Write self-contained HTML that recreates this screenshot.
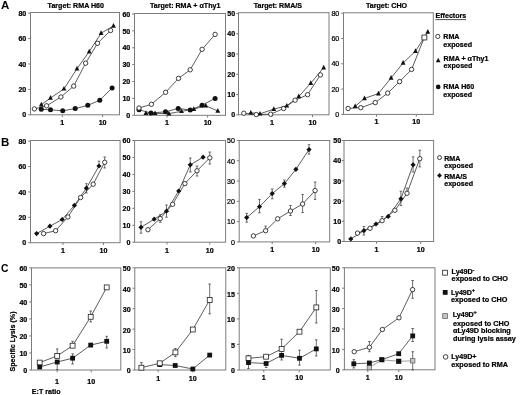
<!DOCTYPE html>
<html><head><meta charset="utf-8"><style>
html,body{margin:0;padding:0;background:#fff;}
svg{display:block;will-change:transform;}
text{font-family:"Liberation Sans",sans-serif;fill:#000;stroke:#000;stroke-width:0.22px;}
</style></head><body>
<svg width="520" height="395" viewBox="0 0 520 395">
<rect width="520" height="395" fill="#fff"/>
<text x="1.00" y="9.00" text-anchor="start" font-weight="bold" font-size="11.5" style="stroke-width:0">A</text>
<text x="75.80" y="7.70" text-anchor="middle" font-weight="bold" font-size="7.1" >Target: RMA H60</text>
<text x="185.20" y="8.40" text-anchor="middle" font-weight="bold" font-size="7.1" >Target: RMA + αThy1</text>
<text x="277.80" y="7.70" text-anchor="middle" font-weight="bold" font-size="7.1" >Target: RMA/S</text>
<text x="386.50" y="8.10" text-anchor="middle" font-weight="bold" font-size="7.1" >Target: CHO</text>
<rect x="30.5" y="12.5" width="89.0" height="102.3" fill="none" stroke="#7c7c7c" stroke-width="1"/>
<line x1="28.2" y1="114.8" x2="30.5" y2="114.8" stroke="#7c7c7c"/>
<text x="26.30" y="117.45" text-anchor="end" font-weight="bold" font-size="7.1" >0</text>
<line x1="28.2" y1="89.4" x2="30.5" y2="89.4" stroke="#7c7c7c"/>
<text x="26.30" y="92.05" text-anchor="end" font-weight="bold" font-size="7.1" >20</text>
<line x1="28.2" y1="64.0" x2="30.5" y2="64.0" stroke="#7c7c7c"/>
<text x="26.30" y="66.65" text-anchor="end" font-weight="bold" font-size="7.1" >40</text>
<line x1="28.2" y1="38.60000000000001" x2="30.5" y2="38.60000000000001" stroke="#7c7c7c"/>
<text x="26.30" y="41.25" text-anchor="end" font-weight="bold" font-size="7.1" >60</text>
<line x1="28.2" y1="13.200000000000003" x2="30.5" y2="13.200000000000003" stroke="#7c7c7c"/>
<text x="26.30" y="15.85" text-anchor="end" font-weight="bold" font-size="7.1" >80</text>
<line x1="62.3" y1="114.8" x2="62.3" y2="117.1" stroke="#7c7c7c"/>
<text x="62.30" y="125.00" text-anchor="middle" font-weight="bold" font-size="7.1" >1</text>
<line x1="102.6" y1="114.8" x2="102.6" y2="117.1" stroke="#7c7c7c"/>
<text x="102.60" y="125.00" text-anchor="middle" font-weight="bold" font-size="7.1" >10</text>
<polyline points="34.4,108.9 46.6,105.8 60.9,97.0 73.7,86.1 85.6,63.2 97.5,43.3 110.6,30.5" fill="none" stroke="#333" stroke-width="0.8"/>
<polyline points="41.3,104.7 50.5,98.0 64.0,88.8 77.0,68.7 89.2,51.7 101.1,33.2 113.5,25.9" fill="none" stroke="#333" stroke-width="0.8"/>
<polyline points="41.3,109.3 50.5,109.8 62.7,110.8 75.2,108.6 87.8,105.3 99.8,100.3 112.1,87.9" fill="none" stroke="#333" stroke-width="0.8"/>
<circle cx="34.4" cy="108.9" r="2.2" fill="#fff" stroke="#111" stroke-width="0.8"/>
<circle cx="46.6" cy="105.8" r="2.2" fill="#fff" stroke="#111" stroke-width="0.8"/>
<circle cx="60.9" cy="97.0" r="2.2" fill="#fff" stroke="#111" stroke-width="0.8"/>
<circle cx="73.7" cy="86.1" r="2.2" fill="#fff" stroke="#111" stroke-width="0.8"/>
<circle cx="85.6" cy="63.2" r="2.2" fill="#fff" stroke="#111" stroke-width="0.8"/>
<circle cx="97.5" cy="43.3" r="2.2" fill="#fff" stroke="#111" stroke-width="0.8"/>
<circle cx="110.6" cy="30.5" r="2.2" fill="#fff" stroke="#111" stroke-width="0.8"/>
<path d="M41.3,101.8 L43.7,106.5 L38.9,106.5Z" fill="#111"/>
<path d="M50.5,95.1 L52.9,99.8 L48.1,99.8Z" fill="#111"/>
<path d="M64.0,85.9 L66.4,90.6 L61.6,90.6Z" fill="#111"/>
<path d="M77.0,65.8 L79.4,70.5 L74.6,70.5Z" fill="#111"/>
<path d="M89.2,48.8 L91.6,53.5 L86.8,53.5Z" fill="#111"/>
<path d="M101.1,30.3 L103.5,35.0 L98.7,35.0Z" fill="#111"/>
<path d="M113.5,23.0 L115.9,27.7 L111.1,27.7Z" fill="#111"/>
<circle cx="41.3" cy="109.3" r="2.5" fill="#111"/>
<circle cx="50.5" cy="109.8" r="2.5" fill="#111"/>
<circle cx="62.7" cy="110.8" r="2.5" fill="#111"/>
<circle cx="75.2" cy="108.6" r="2.5" fill="#111"/>
<circle cx="87.8" cy="105.3" r="2.5" fill="#111"/>
<circle cx="99.8" cy="100.3" r="2.5" fill="#111"/>
<circle cx="112.1" cy="87.9" r="2.5" fill="#111"/>
<rect x="134.5" y="13.5" width="91.0" height="101.8" fill="none" stroke="#7c7c7c" stroke-width="1"/>
<line x1="132.2" y1="115.3" x2="134.5" y2="115.3" stroke="#7c7c7c"/>
<text x="130.30" y="117.95" text-anchor="end" font-weight="bold" font-size="7.1" >0</text>
<line x1="132.2" y1="98.41666666666666" x2="134.5" y2="98.41666666666666" stroke="#7c7c7c"/>
<text x="130.30" y="101.07" text-anchor="end" font-weight="bold" font-size="7.1" >10</text>
<line x1="132.2" y1="81.53333333333333" x2="134.5" y2="81.53333333333333" stroke="#7c7c7c"/>
<text x="130.30" y="84.18" text-anchor="end" font-weight="bold" font-size="7.1" >20</text>
<line x1="132.2" y1="64.65" x2="134.5" y2="64.65" stroke="#7c7c7c"/>
<text x="130.30" y="67.30" text-anchor="end" font-weight="bold" font-size="7.1" >30</text>
<line x1="132.2" y1="47.766666666666666" x2="134.5" y2="47.766666666666666" stroke="#7c7c7c"/>
<text x="130.30" y="50.42" text-anchor="end" font-weight="bold" font-size="7.1" >40</text>
<line x1="132.2" y1="30.883333333333326" x2="134.5" y2="30.883333333333326" stroke="#7c7c7c"/>
<text x="130.30" y="33.53" text-anchor="end" font-weight="bold" font-size="7.1" >50</text>
<line x1="132.2" y1="14.0" x2="134.5" y2="14.0" stroke="#7c7c7c"/>
<text x="130.30" y="16.65" text-anchor="end" font-weight="bold" font-size="7.1" >60</text>
<line x1="167" y1="115.3" x2="167" y2="117.6" stroke="#7c7c7c"/>
<text x="167.00" y="125.35" text-anchor="middle" font-weight="bold" font-size="7.1" >1</text>
<line x1="207.6" y1="115.3" x2="207.6" y2="117.6" stroke="#7c7c7c"/>
<text x="207.60" y="125.35" text-anchor="middle" font-weight="bold" font-size="7.1" >10</text>
<polyline points="139.0,109.8 151.0,113.0 165.5,111.8 178.2,108.4 190.2,110.0 202.1,105.2 215.1,98.4" fill="none" stroke="#333" stroke-width="0.8"/>
<polyline points="145.9,113.3 155.1,113.3 168.9,113.6 181.5,111.3 193.8,109.1 205.8,105.8 217.8,111.0" fill="none" stroke="#333" stroke-width="0.8"/>
<polyline points="139.0,108.0 151.4,104.3 165.6,92.3 178.5,78.4 190.2,69.8 202.1,49.3 215.1,34.4" fill="none" stroke="#333" stroke-width="0.8"/>
<circle cx="139.0" cy="109.8" r="2.5" fill="#111"/>
<circle cx="151.0" cy="113.0" r="2.5" fill="#111"/>
<circle cx="165.5" cy="111.8" r="2.5" fill="#111"/>
<circle cx="178.2" cy="108.4" r="2.5" fill="#111"/>
<circle cx="190.2" cy="110.0" r="2.5" fill="#111"/>
<circle cx="202.1" cy="105.2" r="2.5" fill="#111"/>
<circle cx="215.1" cy="98.4" r="2.5" fill="#111"/>
<path d="M145.9,110.4 L148.3,115.1 L143.5,115.1Z" fill="#111"/>
<path d="M155.1,110.4 L157.5,115.1 L152.7,115.1Z" fill="#111"/>
<path d="M168.9,110.7 L171.3,115.4 L166.5,115.4Z" fill="#111"/>
<path d="M181.5,108.4 L183.9,113.1 L179.1,113.1Z" fill="#111"/>
<path d="M193.8,106.2 L196.2,110.9 L191.4,110.9Z" fill="#111"/>
<path d="M205.8,102.9 L208.2,107.6 L203.4,107.6Z" fill="#111"/>
<path d="M217.8,108.1 L220.2,112.8 L215.4,112.8Z" fill="#111"/>
<circle cx="139.0" cy="108.0" r="2.2" fill="#fff" stroke="#111" stroke-width="0.8"/>
<circle cx="151.4" cy="104.3" r="2.2" fill="#fff" stroke="#111" stroke-width="0.8"/>
<circle cx="165.6" cy="92.3" r="2.2" fill="#fff" stroke="#111" stroke-width="0.8"/>
<circle cx="178.5" cy="78.4" r="2.2" fill="#fff" stroke="#111" stroke-width="0.8"/>
<circle cx="190.2" cy="69.8" r="2.2" fill="#fff" stroke="#111" stroke-width="0.8"/>
<circle cx="202.1" cy="49.3" r="2.2" fill="#fff" stroke="#111" stroke-width="0.8"/>
<circle cx="215.1" cy="34.4" r="2.2" fill="#fff" stroke="#111" stroke-width="0.8"/>
<rect x="238.5" y="12.7" width="90.5" height="102.1" fill="none" stroke="#7c7c7c" stroke-width="1"/>
<line x1="236.2" y1="114.8" x2="238.5" y2="114.8" stroke="#7c7c7c"/>
<text x="235.10" y="117.45" text-anchor="end" font-weight="bold" font-size="7.1" >0</text>
<line x1="236.2" y1="94.53999999999999" x2="238.5" y2="94.53999999999999" stroke="#7c7c7c"/>
<text x="235.10" y="97.19" text-anchor="end" font-weight="bold" font-size="7.1" >10</text>
<line x1="236.2" y1="74.28" x2="238.5" y2="74.28" stroke="#7c7c7c"/>
<text x="235.10" y="76.93" text-anchor="end" font-weight="bold" font-size="7.1" >20</text>
<line x1="236.2" y1="54.02" x2="238.5" y2="54.02" stroke="#7c7c7c"/>
<text x="235.10" y="56.67" text-anchor="end" font-weight="bold" font-size="7.1" >30</text>
<line x1="236.2" y1="33.760000000000005" x2="238.5" y2="33.760000000000005" stroke="#7c7c7c"/>
<text x="235.10" y="36.41" text-anchor="end" font-weight="bold" font-size="7.1" >40</text>
<line x1="236.2" y1="13.5" x2="238.5" y2="13.5" stroke="#7c7c7c"/>
<text x="235.10" y="16.15" text-anchor="end" font-weight="bold" font-size="7.1" >50</text>
<line x1="271.9" y1="114.8" x2="271.9" y2="117.1" stroke="#7c7c7c"/>
<text x="271.90" y="124.65" text-anchor="middle" font-weight="bold" font-size="7.1" >1</text>
<line x1="312.5" y1="114.8" x2="312.5" y2="117.1" stroke="#7c7c7c"/>
<text x="312.50" y="124.65" text-anchor="middle" font-weight="bold" font-size="7.1" >10</text>
<polyline points="243.8,113.2 256.3,114.6 270.7,114.2 283.6,108.5 295.1,100.2 307.6,94.7 320.4,74.9" fill="none" stroke="#333" stroke-width="0.8"/>
<polyline points="250.8,112.8 260.0,113.8 273.8,109.1 286.8,105.8 298.8,96.5 310.8,83.1 323.7,67.6" fill="none" stroke="#333" stroke-width="0.8"/>
<circle cx="243.8" cy="113.2" r="2.2" fill="#fff" stroke="#111" stroke-width="0.8"/>
<circle cx="256.3" cy="114.6" r="2.2" fill="#fff" stroke="#111" stroke-width="0.8"/>
<circle cx="270.7" cy="114.2" r="2.2" fill="#fff" stroke="#111" stroke-width="0.8"/>
<circle cx="283.6" cy="108.5" r="2.2" fill="#fff" stroke="#111" stroke-width="0.8"/>
<circle cx="295.1" cy="100.2" r="2.2" fill="#fff" stroke="#111" stroke-width="0.8"/>
<circle cx="307.6" cy="94.7" r="2.2" fill="#fff" stroke="#111" stroke-width="0.8"/>
<circle cx="320.4" cy="74.9" r="2.2" fill="#fff" stroke="#111" stroke-width="0.8"/>
<path d="M250.8,109.9 L253.2,114.6 L248.4,114.6Z" fill="#111"/>
<path d="M260.0,110.9 L262.4,115.6 L257.6,115.6Z" fill="#111"/>
<path d="M273.8,106.2 L276.2,110.9 L271.4,110.9Z" fill="#111"/>
<path d="M286.8,102.9 L289.2,107.6 L284.4,107.6Z" fill="#111"/>
<path d="M298.8,93.6 L301.2,98.3 L296.4,98.3Z" fill="#111"/>
<path d="M310.8,80.2 L313.2,84.9 L308.4,84.9Z" fill="#111"/>
<path d="M323.7,64.7 L326.1,69.4 L321.3,69.4Z" fill="#111"/>
<rect x="343.5" y="12.8" width="89.80000000000001" height="101.60000000000001" fill="none" stroke="#7c7c7c" stroke-width="1"/>
<line x1="341.2" y1="114.4" x2="343.5" y2="114.4" stroke="#7c7c7c"/>
<text x="339.30" y="117.05" text-anchor="end" font-weight="normal" font-size="7.1" >0</text>
<line x1="341.2" y1="89.10000000000001" x2="343.5" y2="89.10000000000001" stroke="#7c7c7c"/>
<text x="339.30" y="91.75" text-anchor="end" font-weight="normal" font-size="7.1" >20</text>
<line x1="341.2" y1="63.800000000000004" x2="343.5" y2="63.800000000000004" stroke="#7c7c7c"/>
<text x="339.30" y="66.45" text-anchor="end" font-weight="normal" font-size="7.1" >40</text>
<line x1="341.2" y1="38.5" x2="343.5" y2="38.5" stroke="#7c7c7c"/>
<text x="339.30" y="41.15" text-anchor="end" font-weight="normal" font-size="7.1" >60</text>
<line x1="341.2" y1="13.200000000000003" x2="343.5" y2="13.200000000000003" stroke="#7c7c7c"/>
<text x="339.30" y="15.85" text-anchor="end" font-weight="normal" font-size="7.1" >80</text>
<line x1="376.5" y1="114.4" x2="376.5" y2="116.7" stroke="#7c7c7c"/>
<text x="376.50" y="124.40" text-anchor="middle" font-weight="bold" font-size="7.1" >1</text>
<line x1="416.3" y1="114.4" x2="416.3" y2="116.7" stroke="#7c7c7c"/>
<text x="416.30" y="124.40" text-anchor="middle" font-weight="bold" font-size="7.1" >10</text>
<polyline points="348.1,108.5 360.8,107.7 375.2,102.6 387.7,93.1 399.6,81.6 411.6,69.4 424.3,37.5" fill="none" stroke="#333" stroke-width="0.8"/>
<polyline points="355.2,106.3 364.5,98.4 378.4,93.6 391.1,77.9 403.1,63.0 415.5,51.1 427.8,32.0" fill="none" stroke="#333" stroke-width="0.8"/>
<circle cx="348.1" cy="108.5" r="2.2" fill="#fff" stroke="#111" stroke-width="0.8"/>
<circle cx="360.8" cy="107.7" r="2.2" fill="#fff" stroke="#111" stroke-width="0.8"/>
<circle cx="375.2" cy="102.6" r="2.2" fill="#fff" stroke="#111" stroke-width="0.8"/>
<circle cx="387.7" cy="93.1" r="2.2" fill="#fff" stroke="#111" stroke-width="0.8"/>
<circle cx="399.6" cy="81.6" r="2.2" fill="#fff" stroke="#111" stroke-width="0.8"/>
<circle cx="411.6" cy="69.4" r="2.2" fill="#fff" stroke="#111" stroke-width="0.8"/>
<circle cx="424.3" cy="37.5" r="2.2" fill="#fff" stroke="#111" stroke-width="0.8"/>
<rect x="421.95" y="35.05" width="4.90" height="4.90" fill="#fff" stroke="#222" stroke-width="0.8"/>
<path d="M355.2,103.4 L357.6,108.1 L352.8,108.1Z" fill="#111"/>
<path d="M364.5,95.5 L366.9,100.2 L362.1,100.2Z" fill="#111"/>
<path d="M378.4,90.7 L380.8,95.4 L376.0,95.4Z" fill="#111"/>
<path d="M391.1,75.0 L393.5,79.7 L388.7,79.7Z" fill="#111"/>
<path d="M403.1,60.1 L405.5,64.8 L400.7,64.8Z" fill="#111"/>
<path d="M415.5,48.2 L417.9,52.9 L413.1,52.9Z" fill="#111"/>
<path d="M427.8,29.1 L430.2,33.8 L425.4,33.8Z" fill="#111"/>
<text x="435.50" y="18.30" text-anchor="start" font-weight="bold" font-size="7.1" >Effectors</text>
<line x1="435.5" y1="19.6" x2="466" y2="19.6" stroke="#222" stroke-width="0.8"/>
<circle cx="437.8" cy="36.4" r="2.1" fill="#fff" stroke="#111" stroke-width="0.8"/>
<text x="443.30" y="39.20" text-anchor="start" font-weight="bold" font-size="7.1" >RMA</text>
<text x="443.30" y="46.60" text-anchor="start" font-weight="bold" font-size="7.1" >exposed</text>
<path d="M438.2,57.8 L440.5,62.2 L435.9,62.2Z" fill="#111"/>
<text x="443.60" y="60.80" text-anchor="start" font-weight="bold" font-size="7.1" >RMA + αThy1</text>
<text x="443.60" y="68.20" text-anchor="start" font-weight="bold" font-size="7.1" >exposed</text>
<circle cx="438.2" cy="86.9" r="2.3" fill="#111"/>
<text x="443.30" y="89.30" text-anchor="start" font-weight="bold" font-size="7.1" >RMA H60</text>
<text x="443.30" y="96.80" text-anchor="start" font-weight="bold" font-size="7.1" >exposed</text>
<text x="1.00" y="146.00" text-anchor="start" font-weight="bold" font-size="11.5" style="stroke-width:0">B</text>
<rect x="30.5" y="140.5" width="89.6" height="102.19999999999999" fill="none" stroke="#7c7c7c" stroke-width="1"/>
<line x1="28.2" y1="242.7" x2="30.5" y2="242.7" stroke="#7c7c7c"/>
<text x="26.30" y="245.45" text-anchor="end" font-weight="bold" font-size="7.1" >0</text>
<line x1="28.2" y1="217.325" x2="30.5" y2="217.325" stroke="#7c7c7c"/>
<text x="26.30" y="220.07" text-anchor="end" font-weight="bold" font-size="7.1" >20</text>
<line x1="28.2" y1="191.95" x2="30.5" y2="191.95" stroke="#7c7c7c"/>
<text x="26.30" y="194.70" text-anchor="end" font-weight="bold" font-size="7.1" >40</text>
<line x1="28.2" y1="166.575" x2="30.5" y2="166.575" stroke="#7c7c7c"/>
<text x="26.30" y="169.32" text-anchor="end" font-weight="bold" font-size="7.1" >60</text>
<line x1="28.2" y1="141.2" x2="30.5" y2="141.2" stroke="#7c7c7c"/>
<text x="26.30" y="143.95" text-anchor="end" font-weight="bold" font-size="7.1" >80</text>
<line x1="63.0" y1="242.7" x2="63.0" y2="245.0" stroke="#7c7c7c"/>
<text x="63.00" y="253.00" text-anchor="middle" font-weight="bold" font-size="7.1" >1</text>
<line x1="103.4" y1="242.7" x2="103.4" y2="245.0" stroke="#7c7c7c"/>
<text x="103.40" y="253.00" text-anchor="middle" font-weight="bold" font-size="7.1" >10</text>
<polyline points="43.6,233.6 55.6,230.7 67.9,217.0 80.6,197.5 93.2,184.2 104.7,162.3" fill="none" stroke="#333" stroke-width="0.8"/>
<polyline points="36.6,233.6 49.9,226.2 62.2,219.5 74.4,205.4 86.4,188.2 99.0,166.0" fill="none" stroke="#333" stroke-width="0.8"/>
<line x1="104.7" y1="157.0" x2="104.7" y2="162.3" stroke="#333" stroke-width="0.7"/>
<line x1="103.4" y1="157.0" x2="106.0" y2="157.0" stroke="#333" stroke-width="0.7"/>
<line x1="104.7" y1="168.0" x2="104.7" y2="162.3" stroke="#333" stroke-width="0.7"/>
<line x1="103.4" y1="168.0" x2="106.0" y2="168.0" stroke="#333" stroke-width="0.7"/>
<line x1="86.4" y1="183.7" x2="86.4" y2="188.2" stroke="#333" stroke-width="0.7"/>
<line x1="85.1" y1="183.7" x2="87.7" y2="183.7" stroke="#333" stroke-width="0.7"/>
<line x1="86.4" y1="193.0" x2="86.4" y2="188.2" stroke="#333" stroke-width="0.7"/>
<line x1="85.1" y1="193.0" x2="87.7" y2="193.0" stroke="#333" stroke-width="0.7"/>
<line x1="99.0" y1="161.2" x2="99.0" y2="166.0" stroke="#333" stroke-width="0.7"/>
<line x1="97.7" y1="161.2" x2="100.3" y2="161.2" stroke="#333" stroke-width="0.7"/>
<circle cx="43.6" cy="233.6" r="2.2" fill="#fff" stroke="#111" stroke-width="0.8"/>
<circle cx="55.6" cy="230.7" r="2.2" fill="#fff" stroke="#111" stroke-width="0.8"/>
<circle cx="67.9" cy="217.0" r="2.2" fill="#fff" stroke="#111" stroke-width="0.8"/>
<circle cx="80.6" cy="197.5" r="2.2" fill="#fff" stroke="#111" stroke-width="0.8"/>
<circle cx="93.2" cy="184.2" r="2.2" fill="#fff" stroke="#111" stroke-width="0.8"/>
<circle cx="104.7" cy="162.3" r="2.2" fill="#fff" stroke="#111" stroke-width="0.8"/>
<path d="M36.6,231.0 L39.2,233.6 L36.6,236.2 L34.0,233.6Z" fill="#111"/>
<path d="M49.9,223.6 L52.5,226.2 L49.9,228.8 L47.3,226.2Z" fill="#111"/>
<path d="M62.2,216.9 L64.8,219.5 L62.2,222.1 L59.6,219.5Z" fill="#111"/>
<path d="M74.4,202.8 L77.0,205.4 L74.4,208.0 L71.8,205.4Z" fill="#111"/>
<path d="M86.4,185.6 L89.0,188.2 L86.4,190.8 L83.8,188.2Z" fill="#111"/>
<path d="M99.0,163.4 L101.6,166.0 L99.0,168.6 L96.4,166.0Z" fill="#111"/>
<rect x="134.6" y="140.5" width="91.0" height="101.69999999999999" fill="none" stroke="#7c7c7c" stroke-width="1"/>
<line x1="132.29999999999998" y1="242.2" x2="134.6" y2="242.2" stroke="#7c7c7c"/>
<text x="130.40" y="244.95" text-anchor="end" font-weight="bold" font-size="7.1" >0</text>
<line x1="132.29999999999998" y1="225.25" x2="134.6" y2="225.25" stroke="#7c7c7c"/>
<text x="130.40" y="228.00" text-anchor="end" font-weight="bold" font-size="7.1" >10</text>
<line x1="132.29999999999998" y1="208.29999999999998" x2="134.6" y2="208.29999999999998" stroke="#7c7c7c"/>
<text x="130.40" y="211.05" text-anchor="end" font-weight="bold" font-size="7.1" >20</text>
<line x1="132.29999999999998" y1="191.35" x2="134.6" y2="191.35" stroke="#7c7c7c"/>
<text x="130.40" y="194.10" text-anchor="end" font-weight="bold" font-size="7.1" >30</text>
<line x1="132.29999999999998" y1="174.39999999999998" x2="134.6" y2="174.39999999999998" stroke="#7c7c7c"/>
<text x="130.40" y="177.15" text-anchor="end" font-weight="bold" font-size="7.1" >40</text>
<line x1="132.29999999999998" y1="157.45" x2="134.6" y2="157.45" stroke="#7c7c7c"/>
<text x="130.40" y="160.20" text-anchor="end" font-weight="bold" font-size="7.1" >50</text>
<line x1="132.29999999999998" y1="140.5" x2="134.6" y2="140.5" stroke="#7c7c7c"/>
<text x="130.40" y="143.25" text-anchor="end" font-weight="bold" font-size="7.1" >60</text>
<line x1="167.1" y1="242.2" x2="167.1" y2="244.5" stroke="#7c7c7c"/>
<text x="167.10" y="252.50" text-anchor="middle" font-weight="bold" font-size="7.1" >1</text>
<line x1="209.8" y1="242.2" x2="209.8" y2="244.5" stroke="#7c7c7c"/>
<text x="209.80" y="252.50" text-anchor="middle" font-weight="bold" font-size="7.1" >10</text>
<polyline points="147.9,229.7 160.2,218.6 172.6,204.3 184.9,183.6 197.0,170.8 209.8,157.8" fill="none" stroke="#333" stroke-width="0.8"/>
<polyline points="141.0,227.3 154.2,219.2 166.5,211.2 178.7,191.0 190.3,164.8 203.1,157.2" fill="none" stroke="#333" stroke-width="0.8"/>
<line x1="160.2" y1="214.8" x2="160.2" y2="218.6" stroke="#333" stroke-width="0.7"/>
<line x1="158.9" y1="214.8" x2="161.5" y2="214.8" stroke="#333" stroke-width="0.7"/>
<line x1="160.2" y1="222.3" x2="160.2" y2="218.6" stroke="#333" stroke-width="0.7"/>
<line x1="158.9" y1="222.3" x2="161.5" y2="222.3" stroke="#333" stroke-width="0.7"/>
<line x1="197.0" y1="166.0" x2="197.0" y2="170.8" stroke="#333" stroke-width="0.7"/>
<line x1="195.7" y1="166.0" x2="198.3" y2="166.0" stroke="#333" stroke-width="0.7"/>
<line x1="197.0" y1="176.0" x2="197.0" y2="170.8" stroke="#333" stroke-width="0.7"/>
<line x1="195.7" y1="176.0" x2="198.3" y2="176.0" stroke="#333" stroke-width="0.7"/>
<line x1="209.8" y1="152.0" x2="209.8" y2="157.8" stroke="#333" stroke-width="0.7"/>
<line x1="208.5" y1="152.0" x2="211.1" y2="152.0" stroke="#333" stroke-width="0.7"/>
<line x1="209.8" y1="164.0" x2="209.8" y2="157.8" stroke="#333" stroke-width="0.7"/>
<line x1="208.5" y1="164.0" x2="211.1" y2="164.0" stroke="#333" stroke-width="0.7"/>
<line x1="141.0" y1="221.8" x2="141.0" y2="227.3" stroke="#333" stroke-width="0.7"/>
<line x1="139.7" y1="221.8" x2="142.3" y2="221.8" stroke="#333" stroke-width="0.7"/>
<line x1="141.0" y1="233.2" x2="141.0" y2="227.3" stroke="#333" stroke-width="0.7"/>
<line x1="139.7" y1="233.2" x2="142.3" y2="233.2" stroke="#333" stroke-width="0.7"/>
<line x1="166.5" y1="205.0" x2="166.5" y2="211.2" stroke="#333" stroke-width="0.7"/>
<line x1="165.2" y1="205.0" x2="167.8" y2="205.0" stroke="#333" stroke-width="0.7"/>
<line x1="166.5" y1="217.2" x2="166.5" y2="211.2" stroke="#333" stroke-width="0.7"/>
<line x1="165.2" y1="217.2" x2="167.8" y2="217.2" stroke="#333" stroke-width="0.7"/>
<line x1="190.3" y1="158.0" x2="190.3" y2="164.8" stroke="#333" stroke-width="0.7"/>
<line x1="189.0" y1="158.0" x2="191.6" y2="158.0" stroke="#333" stroke-width="0.7"/>
<line x1="190.3" y1="172.0" x2="190.3" y2="164.8" stroke="#333" stroke-width="0.7"/>
<line x1="189.0" y1="172.0" x2="191.6" y2="172.0" stroke="#333" stroke-width="0.7"/>
<circle cx="147.9" cy="229.7" r="2.2" fill="#fff" stroke="#111" stroke-width="0.8"/>
<circle cx="160.2" cy="218.6" r="2.2" fill="#fff" stroke="#111" stroke-width="0.8"/>
<circle cx="172.6" cy="204.3" r="2.2" fill="#fff" stroke="#111" stroke-width="0.8"/>
<circle cx="184.9" cy="183.6" r="2.2" fill="#fff" stroke="#111" stroke-width="0.8"/>
<circle cx="197.0" cy="170.8" r="2.2" fill="#fff" stroke="#111" stroke-width="0.8"/>
<circle cx="209.8" cy="157.8" r="2.2" fill="#fff" stroke="#111" stroke-width="0.8"/>
<path d="M141.0,224.7 L143.6,227.3 L141.0,229.9 L138.4,227.3Z" fill="#111"/>
<path d="M154.2,216.6 L156.8,219.2 L154.2,221.8 L151.6,219.2Z" fill="#111"/>
<path d="M166.5,208.6 L169.1,211.2 L166.5,213.8 L163.9,211.2Z" fill="#111"/>
<path d="M178.7,188.4 L181.3,191.0 L178.7,193.6 L176.1,191.0Z" fill="#111"/>
<path d="M190.3,162.2 L192.9,164.8 L190.3,167.4 L187.7,164.8Z" fill="#111"/>
<path d="M203.1,154.6 L205.7,157.2 L203.1,159.8 L200.5,157.2Z" fill="#111"/>
<rect x="239.2" y="140.5" width="90.5" height="101.4" fill="none" stroke="#7c7c7c" stroke-width="1"/>
<line x1="236.89999999999998" y1="241.9" x2="239.2" y2="241.9" stroke="#7c7c7c"/>
<text x="235.00" y="244.65" text-anchor="end" font-weight="normal" font-size="7.1" >0</text>
<line x1="236.89999999999998" y1="221.62" x2="239.2" y2="221.62" stroke="#7c7c7c"/>
<text x="235.00" y="224.37" text-anchor="end" font-weight="normal" font-size="7.1" >10</text>
<line x1="236.89999999999998" y1="201.34" x2="239.2" y2="201.34" stroke="#7c7c7c"/>
<text x="235.00" y="204.09" text-anchor="end" font-weight="normal" font-size="7.1" >20</text>
<line x1="236.89999999999998" y1="181.06" x2="239.2" y2="181.06" stroke="#7c7c7c"/>
<text x="235.00" y="183.81" text-anchor="end" font-weight="normal" font-size="7.1" >30</text>
<line x1="236.89999999999998" y1="160.78" x2="239.2" y2="160.78" stroke="#7c7c7c"/>
<text x="235.00" y="163.53" text-anchor="end" font-weight="normal" font-size="7.1" >40</text>
<line x1="236.89999999999998" y1="140.5" x2="239.2" y2="140.5" stroke="#7c7c7c"/>
<text x="235.00" y="143.25" text-anchor="end" font-weight="normal" font-size="7.1" >50</text>
<line x1="272.2" y1="241.9" x2="272.2" y2="244.20000000000002" stroke="#7c7c7c"/>
<text x="272.20" y="252.20" text-anchor="middle" font-weight="bold" font-size="7.1" >1</text>
<line x1="315.7" y1="241.9" x2="315.7" y2="244.20000000000002" stroke="#7c7c7c"/>
<text x="315.70" y="252.20" text-anchor="middle" font-weight="bold" font-size="7.1" >10</text>
<polyline points="253.4,235.9 265.6,230.7 277.7,218.8 290.5,211.0 302.6,204.0 315.1,190.6" fill="none" stroke="#333" stroke-width="0.8"/>
<polyline points="246.7,217.6 259.5,206.7 272.2,193.6 284.4,183.6 295.9,169.3 309.0,149.6" fill="none" stroke="#333" stroke-width="0.8"/>
<line x1="265.6" y1="226.1" x2="265.6" y2="230.7" stroke="#333" stroke-width="0.7"/>
<line x1="264.3" y1="226.1" x2="266.9" y2="226.1" stroke="#333" stroke-width="0.7"/>
<line x1="290.5" y1="205.5" x2="290.5" y2="211.0" stroke="#333" stroke-width="0.7"/>
<line x1="289.2" y1="205.5" x2="291.8" y2="205.5" stroke="#333" stroke-width="0.7"/>
<line x1="290.5" y1="215.5" x2="290.5" y2="211.0" stroke="#333" stroke-width="0.7"/>
<line x1="289.2" y1="215.5" x2="291.8" y2="215.5" stroke="#333" stroke-width="0.7"/>
<line x1="302.6" y1="194.5" x2="302.6" y2="204.0" stroke="#333" stroke-width="0.7"/>
<line x1="301.3" y1="194.5" x2="303.9" y2="194.5" stroke="#333" stroke-width="0.7"/>
<line x1="302.6" y1="212.5" x2="302.6" y2="204.0" stroke="#333" stroke-width="0.7"/>
<line x1="301.3" y1="212.5" x2="303.9" y2="212.5" stroke="#333" stroke-width="0.7"/>
<line x1="315.1" y1="182.0" x2="315.1" y2="190.6" stroke="#333" stroke-width="0.7"/>
<line x1="313.8" y1="182.0" x2="316.4" y2="182.0" stroke="#333" stroke-width="0.7"/>
<line x1="315.1" y1="199.4" x2="315.1" y2="190.6" stroke="#333" stroke-width="0.7"/>
<line x1="313.8" y1="199.4" x2="316.4" y2="199.4" stroke="#333" stroke-width="0.7"/>
<line x1="246.7" y1="213.4" x2="246.7" y2="217.6" stroke="#333" stroke-width="0.7"/>
<line x1="245.4" y1="213.4" x2="248.0" y2="213.4" stroke="#333" stroke-width="0.7"/>
<line x1="246.7" y1="222.2" x2="246.7" y2="217.6" stroke="#333" stroke-width="0.7"/>
<line x1="245.4" y1="222.2" x2="248.0" y2="222.2" stroke="#333" stroke-width="0.7"/>
<line x1="259.5" y1="199.4" x2="259.5" y2="206.7" stroke="#333" stroke-width="0.7"/>
<line x1="258.2" y1="199.4" x2="260.8" y2="199.4" stroke="#333" stroke-width="0.7"/>
<line x1="259.5" y1="212.8" x2="259.5" y2="206.7" stroke="#333" stroke-width="0.7"/>
<line x1="258.2" y1="212.8" x2="260.8" y2="212.8" stroke="#333" stroke-width="0.7"/>
<line x1="272.2" y1="189.0" x2="272.2" y2="193.6" stroke="#333" stroke-width="0.7"/>
<line x1="270.9" y1="189.0" x2="273.5" y2="189.0" stroke="#333" stroke-width="0.7"/>
<line x1="272.2" y1="198.8" x2="272.2" y2="193.6" stroke="#333" stroke-width="0.7"/>
<line x1="270.9" y1="198.8" x2="273.5" y2="198.8" stroke="#333" stroke-width="0.7"/>
<line x1="284.4" y1="180.0" x2="284.4" y2="183.6" stroke="#333" stroke-width="0.7"/>
<line x1="283.1" y1="180.0" x2="285.7" y2="180.0" stroke="#333" stroke-width="0.7"/>
<line x1="284.4" y1="187.2" x2="284.4" y2="183.6" stroke="#333" stroke-width="0.7"/>
<line x1="283.1" y1="187.2" x2="285.7" y2="187.2" stroke="#333" stroke-width="0.7"/>
<line x1="309.0" y1="144.7" x2="309.0" y2="149.6" stroke="#333" stroke-width="0.7"/>
<line x1="307.7" y1="144.7" x2="310.3" y2="144.7" stroke="#333" stroke-width="0.7"/>
<line x1="309.0" y1="154.1" x2="309.0" y2="149.6" stroke="#333" stroke-width="0.7"/>
<line x1="307.7" y1="154.1" x2="310.3" y2="154.1" stroke="#333" stroke-width="0.7"/>
<circle cx="253.4" cy="235.9" r="2.2" fill="#fff" stroke="#111" stroke-width="0.8"/>
<circle cx="265.6" cy="230.7" r="2.2" fill="#fff" stroke="#111" stroke-width="0.8"/>
<circle cx="277.7" cy="218.8" r="2.2" fill="#fff" stroke="#111" stroke-width="0.8"/>
<circle cx="290.5" cy="211.0" r="2.2" fill="#fff" stroke="#111" stroke-width="0.8"/>
<circle cx="302.6" cy="204.0" r="2.2" fill="#fff" stroke="#111" stroke-width="0.8"/>
<circle cx="315.1" cy="190.6" r="2.2" fill="#fff" stroke="#111" stroke-width="0.8"/>
<path d="M246.7,215.0 L249.3,217.6 L246.7,220.2 L244.1,217.6Z" fill="#111"/>
<path d="M259.5,204.1 L262.1,206.7 L259.5,209.3 L256.9,206.7Z" fill="#111"/>
<path d="M272.2,191.0 L274.8,193.6 L272.2,196.2 L269.6,193.6Z" fill="#111"/>
<path d="M284.4,181.0 L287.0,183.6 L284.4,186.2 L281.8,183.6Z" fill="#111"/>
<path d="M295.9,166.7 L298.5,169.3 L295.9,171.9 L293.3,169.3Z" fill="#111"/>
<path d="M309.0,147.0 L311.6,149.6 L309.0,152.2 L306.4,149.6Z" fill="#111"/>
<rect x="344.0" y="140.5" width="89.60000000000002" height="101.0" fill="none" stroke="#7c7c7c" stroke-width="1"/>
<line x1="341.7" y1="241.5" x2="344.0" y2="241.5" stroke="#7c7c7c"/>
<text x="341.20" y="244.25" text-anchor="end" font-weight="bold" font-size="7.1" >0</text>
<line x1="341.7" y1="221.3" x2="344.0" y2="221.3" stroke="#7c7c7c"/>
<text x="341.20" y="224.05" text-anchor="end" font-weight="bold" font-size="7.1" >10</text>
<line x1="341.7" y1="201.1" x2="344.0" y2="201.1" stroke="#7c7c7c"/>
<text x="341.20" y="203.85" text-anchor="end" font-weight="bold" font-size="7.1" >20</text>
<line x1="341.7" y1="180.9" x2="344.0" y2="180.9" stroke="#7c7c7c"/>
<text x="341.20" y="183.65" text-anchor="end" font-weight="bold" font-size="7.1" >30</text>
<line x1="341.7" y1="160.7" x2="344.0" y2="160.7" stroke="#7c7c7c"/>
<text x="341.20" y="163.45" text-anchor="end" font-weight="bold" font-size="7.1" >40</text>
<line x1="341.7" y1="140.5" x2="344.0" y2="140.5" stroke="#7c7c7c"/>
<text x="341.20" y="143.25" text-anchor="end" font-weight="bold" font-size="7.1" >50</text>
<line x1="376.6" y1="241.5" x2="376.6" y2="243.8" stroke="#7c7c7c"/>
<text x="376.60" y="251.80" text-anchor="middle" font-weight="bold" font-size="7.1" >1</text>
<line x1="420.7" y1="241.5" x2="420.7" y2="243.8" stroke="#7c7c7c"/>
<text x="420.70" y="251.80" text-anchor="middle" font-weight="bold" font-size="7.1" >10</text>
<polyline points="357.5,233.1 370.0,228.3 382.1,220.7 394.9,210.3 407.0,193.3 419.8,158.7" fill="none" stroke="#333" stroke-width="0.8"/>
<polyline points="350.8,238.9 363.9,230.7 376.0,224.0 388.2,216.4 400.9,198.8 413.1,164.8" fill="none" stroke="#333" stroke-width="0.8"/>
<line x1="382.1" y1="216.5" x2="382.1" y2="220.7" stroke="#333" stroke-width="0.7"/>
<line x1="380.8" y1="216.5" x2="383.4" y2="216.5" stroke="#333" stroke-width="0.7"/>
<line x1="407.0" y1="188.0" x2="407.0" y2="193.3" stroke="#333" stroke-width="0.7"/>
<line x1="405.7" y1="188.0" x2="408.3" y2="188.0" stroke="#333" stroke-width="0.7"/>
<line x1="419.8" y1="150.2" x2="419.8" y2="158.7" stroke="#333" stroke-width="0.7"/>
<line x1="418.5" y1="150.2" x2="421.1" y2="150.2" stroke="#333" stroke-width="0.7"/>
<line x1="419.8" y1="166.9" x2="419.8" y2="158.7" stroke="#333" stroke-width="0.7"/>
<line x1="418.5" y1="166.9" x2="421.1" y2="166.9" stroke="#333" stroke-width="0.7"/>
<line x1="363.9" y1="226.5" x2="363.9" y2="230.7" stroke="#333" stroke-width="0.7"/>
<line x1="362.6" y1="226.5" x2="365.2" y2="226.5" stroke="#333" stroke-width="0.7"/>
<line x1="363.9" y1="235.0" x2="363.9" y2="230.7" stroke="#333" stroke-width="0.7"/>
<line x1="362.6" y1="235.0" x2="365.2" y2="235.0" stroke="#333" stroke-width="0.7"/>
<line x1="400.9" y1="191.2" x2="400.9" y2="198.8" stroke="#333" stroke-width="0.7"/>
<line x1="399.6" y1="191.2" x2="402.2" y2="191.2" stroke="#333" stroke-width="0.7"/>
<line x1="400.9" y1="205.5" x2="400.9" y2="198.8" stroke="#333" stroke-width="0.7"/>
<line x1="399.6" y1="205.5" x2="402.2" y2="205.5" stroke="#333" stroke-width="0.7"/>
<line x1="413.1" y1="156.9" x2="413.1" y2="164.8" stroke="#333" stroke-width="0.7"/>
<line x1="411.8" y1="156.9" x2="414.4" y2="156.9" stroke="#333" stroke-width="0.7"/>
<line x1="413.1" y1="172.0" x2="413.1" y2="164.8" stroke="#333" stroke-width="0.7"/>
<line x1="411.8" y1="172.0" x2="414.4" y2="172.0" stroke="#333" stroke-width="0.7"/>
<circle cx="357.5" cy="233.1" r="2.2" fill="#fff" stroke="#111" stroke-width="0.8"/>
<circle cx="370.0" cy="228.3" r="2.2" fill="#fff" stroke="#111" stroke-width="0.8"/>
<circle cx="382.1" cy="220.7" r="2.2" fill="#fff" stroke="#111" stroke-width="0.8"/>
<circle cx="394.9" cy="210.3" r="2.2" fill="#fff" stroke="#111" stroke-width="0.8"/>
<circle cx="407.0" cy="193.3" r="2.2" fill="#fff" stroke="#111" stroke-width="0.8"/>
<circle cx="419.8" cy="158.7" r="2.2" fill="#fff" stroke="#111" stroke-width="0.8"/>
<path d="M350.8,236.3 L353.4,238.9 L350.8,241.5 L348.2,238.9Z" fill="#111"/>
<path d="M363.9,228.1 L366.5,230.7 L363.9,233.3 L361.3,230.7Z" fill="#111"/>
<path d="M376.0,221.4 L378.6,224.0 L376.0,226.6 L373.4,224.0Z" fill="#111"/>
<path d="M388.2,213.8 L390.8,216.4 L388.2,219.0 L385.6,216.4Z" fill="#111"/>
<path d="M400.9,196.2 L403.5,198.8 L400.9,201.4 L398.3,198.8Z" fill="#111"/>
<path d="M413.1,162.2 L415.7,164.8 L413.1,167.4 L410.5,164.8Z" fill="#111"/>
<circle cx="439.5" cy="157.6" r="2.0" fill="#fff" stroke="#111" stroke-width="0.8"/>
<text x="444.20" y="160.80" text-anchor="start" font-weight="bold" font-size="7.1" >RMA</text>
<text x="444.20" y="168.20" text-anchor="start" font-weight="bold" font-size="7.1" >exposed</text>
<path d="M439.5,173.1 L441.9,175.5 L439.5,177.9 L437.1,175.5Z" fill="#111"/>
<text x="444.20" y="178.90" text-anchor="start" font-weight="bold" font-size="7.1" >RMA/S</text>
<text x="444.20" y="186.20" text-anchor="start" font-weight="bold" font-size="7.1" >exposed</text>
<text x="0.90" y="272.40" text-anchor="start" font-weight="bold" font-size="11.5" style="stroke-width:0" transform="translate(0.9,272.4) scale(0.9,1) translate(-0.9,-272.4)">C</text>
<rect x="31.5" y="267.9" width="89.3" height="102.10000000000002" fill="none" stroke="#7c7c7c" stroke-width="1"/>
<line x1="29.2" y1="370.0" x2="31.5" y2="370.0" stroke="#7c7c7c"/>
<text x="27.30" y="373.40" text-anchor="end" font-weight="bold" font-size="7.1" >0</text>
<line x1="29.2" y1="352.98333333333335" x2="31.5" y2="352.98333333333335" stroke="#7c7c7c"/>
<text x="27.30" y="356.38" text-anchor="end" font-weight="bold" font-size="7.1" >10</text>
<line x1="29.2" y1="335.96666666666664" x2="31.5" y2="335.96666666666664" stroke="#7c7c7c"/>
<text x="27.30" y="339.37" text-anchor="end" font-weight="bold" font-size="7.1" >20</text>
<line x1="29.2" y1="318.95" x2="31.5" y2="318.95" stroke="#7c7c7c"/>
<text x="27.30" y="322.35" text-anchor="end" font-weight="bold" font-size="7.1" >30</text>
<line x1="29.2" y1="301.93333333333334" x2="31.5" y2="301.93333333333334" stroke="#7c7c7c"/>
<text x="27.30" y="305.33" text-anchor="end" font-weight="bold" font-size="7.1" >40</text>
<line x1="29.2" y1="284.91666666666663" x2="31.5" y2="284.91666666666663" stroke="#7c7c7c"/>
<text x="27.30" y="288.32" text-anchor="end" font-weight="bold" font-size="7.1" >50</text>
<line x1="29.2" y1="267.9" x2="31.5" y2="267.9" stroke="#7c7c7c"/>
<text x="27.30" y="271.30" text-anchor="end" font-weight="bold" font-size="7.1" >60</text>
<line x1="57.1" y1="370" x2="57.1" y2="372.3" stroke="#7c7c7c"/>
<text x="57.10" y="383.75" text-anchor="middle" font-weight="bold" font-size="7.1" >1</text>
<line x1="91.2" y1="370" x2="91.2" y2="372.3" stroke="#7c7c7c"/>
<text x="91.20" y="383.75" text-anchor="middle" font-weight="bold" font-size="7.1" >10</text>
<polyline points="39.7,362.6 57.2,355.9 72.6,345.7 90.7,316.8 106.7,287.4" fill="none" stroke="#333" stroke-width="0.8"/>
<polyline points="39.7,367.0 57.2,362.0 72.6,358.2 90.7,345.1 106.7,341.3" fill="none" stroke="#333" stroke-width="0.8"/>
<line x1="57.2" y1="348.9" x2="57.2" y2="355.9" stroke="#333" stroke-width="0.7"/>
<line x1="55.9" y1="348.9" x2="58.5" y2="348.9" stroke="#333" stroke-width="0.7"/>
<line x1="72.6" y1="341.3" x2="72.6" y2="345.7" stroke="#333" stroke-width="0.7"/>
<line x1="71.3" y1="341.3" x2="73.9" y2="341.3" stroke="#333" stroke-width="0.7"/>
<line x1="90.7" y1="311.0" x2="90.7" y2="316.8" stroke="#333" stroke-width="0.7"/>
<line x1="89.4" y1="311.0" x2="92.0" y2="311.0" stroke="#333" stroke-width="0.7"/>
<line x1="90.7" y1="321.8" x2="90.7" y2="316.8" stroke="#333" stroke-width="0.7"/>
<line x1="89.4" y1="321.8" x2="92.0" y2="321.8" stroke="#333" stroke-width="0.7"/>
<line x1="57.2" y1="369.5" x2="57.2" y2="362.0" stroke="#333" stroke-width="0.7"/>
<line x1="55.9" y1="369.5" x2="58.5" y2="369.5" stroke="#333" stroke-width="0.7"/>
<line x1="72.6" y1="353.8" x2="72.6" y2="358.2" stroke="#333" stroke-width="0.7"/>
<line x1="71.3" y1="353.8" x2="73.9" y2="353.8" stroke="#333" stroke-width="0.7"/>
<line x1="72.6" y1="364.0" x2="72.6" y2="358.2" stroke="#333" stroke-width="0.7"/>
<line x1="71.3" y1="364.0" x2="73.9" y2="364.0" stroke="#333" stroke-width="0.7"/>
<line x1="106.7" y1="336.3" x2="106.7" y2="341.3" stroke="#333" stroke-width="0.7"/>
<line x1="105.4" y1="336.3" x2="108.0" y2="336.3" stroke="#333" stroke-width="0.7"/>
<line x1="106.7" y1="348.0" x2="106.7" y2="341.3" stroke="#333" stroke-width="0.7"/>
<line x1="105.4" y1="348.0" x2="108.0" y2="348.0" stroke="#333" stroke-width="0.7"/>
<rect x="37.25" y="360.15" width="4.90" height="4.90" fill="#fff" stroke="#222" stroke-width="0.8"/>
<rect x="54.75" y="353.45" width="4.90" height="4.90" fill="#fff" stroke="#222" stroke-width="0.8"/>
<rect x="70.15" y="343.25" width="4.90" height="4.90" fill="#fff" stroke="#222" stroke-width="0.8"/>
<rect x="88.25" y="314.35" width="4.90" height="4.90" fill="#fff" stroke="#222" stroke-width="0.8"/>
<rect x="104.25" y="284.95" width="4.90" height="4.90" fill="#fff" stroke="#222" stroke-width="0.8"/>
<rect x="37.30" y="364.60" width="4.80" height="4.80" fill="#111"/>
<rect x="54.80" y="359.60" width="4.80" height="4.80" fill="#111"/>
<rect x="70.20" y="355.80" width="4.80" height="4.80" fill="#111"/>
<rect x="88.30" y="342.70" width="4.80" height="4.80" fill="#111"/>
<rect x="104.30" y="338.90" width="4.80" height="4.80" fill="#111"/>
<rect x="134.8" y="267.8" width="91.0" height="102.19999999999999" fill="none" stroke="#7c7c7c" stroke-width="1"/>
<line x1="132.5" y1="370.0" x2="134.8" y2="370.0" stroke="#7c7c7c"/>
<text x="130.60" y="373.40" text-anchor="end" font-weight="bold" font-size="7.1" >0</text>
<line x1="132.5" y1="349.56" x2="134.8" y2="349.56" stroke="#7c7c7c"/>
<text x="130.60" y="352.96" text-anchor="end" font-weight="bold" font-size="7.1" >10</text>
<line x1="132.5" y1="329.12" x2="134.8" y2="329.12" stroke="#7c7c7c"/>
<text x="130.60" y="332.52" text-anchor="end" font-weight="bold" font-size="7.1" >20</text>
<line x1="132.5" y1="308.68" x2="134.8" y2="308.68" stroke="#7c7c7c"/>
<text x="130.60" y="312.08" text-anchor="end" font-weight="bold" font-size="7.1" >30</text>
<line x1="132.5" y1="288.24" x2="134.8" y2="288.24" stroke="#7c7c7c"/>
<text x="130.60" y="291.64" text-anchor="end" font-weight="bold" font-size="7.1" >40</text>
<line x1="132.5" y1="267.8" x2="134.8" y2="267.8" stroke="#7c7c7c"/>
<text x="130.60" y="271.20" text-anchor="end" font-weight="bold" font-size="7.1" >50</text>
<line x1="158.2" y1="370" x2="158.2" y2="372.3" stroke="#7c7c7c"/>
<text x="158.20" y="381.05" text-anchor="middle" font-weight="bold" font-size="7.1" >1</text>
<line x1="192.8" y1="370" x2="192.8" y2="372.3" stroke="#7c7c7c"/>
<text x="192.80" y="381.05" text-anchor="middle" font-weight="bold" font-size="7.1" >10</text>
<polyline points="159.8,364.6 175.2,365.5 192.8,369.0 209.7,355.1" fill="none" stroke="#333" stroke-width="0.8"/>
<polyline points="141.4,367.7 159.7,363.3 175.4,352.4 192.8,329.5 209.7,300.0" fill="none" stroke="#333" stroke-width="0.8"/>
<line x1="141.4" y1="362.5" x2="141.4" y2="367.7" stroke="#333" stroke-width="0.7"/>
<line x1="140.1" y1="362.5" x2="142.7" y2="362.5" stroke="#333" stroke-width="0.7"/>
<line x1="175.4" y1="348.5" x2="175.4" y2="352.4" stroke="#333" stroke-width="0.7"/>
<line x1="174.1" y1="348.5" x2="176.7" y2="348.5" stroke="#333" stroke-width="0.7"/>
<line x1="175.4" y1="356.7" x2="175.4" y2="352.4" stroke="#333" stroke-width="0.7"/>
<line x1="174.1" y1="356.7" x2="176.7" y2="356.7" stroke="#333" stroke-width="0.7"/>
<line x1="209.7" y1="284.0" x2="209.7" y2="300.0" stroke="#333" stroke-width="0.7"/>
<line x1="208.4" y1="284.0" x2="211.0" y2="284.0" stroke="#333" stroke-width="0.7"/>
<line x1="209.7" y1="313.9" x2="209.7" y2="300.0" stroke="#333" stroke-width="0.7"/>
<line x1="208.4" y1="313.9" x2="211.0" y2="313.9" stroke="#333" stroke-width="0.7"/>
<rect x="157.40" y="362.20" width="4.80" height="4.80" fill="#111"/>
<rect x="172.80" y="363.10" width="4.80" height="4.80" fill="#111"/>
<rect x="190.40" y="366.60" width="4.80" height="4.80" fill="#111"/>
<rect x="207.30" y="352.70" width="4.80" height="4.80" fill="#111"/>
<rect x="138.95" y="365.25" width="4.90" height="4.90" fill="#fff" stroke="#222" stroke-width="0.8"/>
<rect x="157.25" y="360.85" width="4.90" height="4.90" fill="#fff" stroke="#222" stroke-width="0.8"/>
<rect x="172.95" y="349.95" width="4.90" height="4.90" fill="#fff" stroke="#222" stroke-width="0.8"/>
<rect x="190.35" y="327.05" width="4.90" height="4.90" fill="#fff" stroke="#222" stroke-width="0.8"/>
<rect x="207.25" y="297.55" width="4.90" height="4.90" fill="#fff" stroke="#222" stroke-width="0.8"/>
<rect x="239.2" y="267.8" width="91.10000000000002" height="102.19999999999999" fill="none" stroke="#7c7c7c" stroke-width="1"/>
<line x1="236.89999999999998" y1="370.0" x2="239.2" y2="370.0" stroke="#7c7c7c"/>
<text x="235.00" y="373.40" text-anchor="end" font-weight="bold" font-size="7.1" >0</text>
<line x1="236.89999999999998" y1="344.45" x2="239.2" y2="344.45" stroke="#7c7c7c"/>
<text x="235.00" y="347.85" text-anchor="end" font-weight="bold" font-size="7.1" >5</text>
<line x1="236.89999999999998" y1="318.9" x2="239.2" y2="318.9" stroke="#7c7c7c"/>
<text x="235.00" y="322.30" text-anchor="end" font-weight="bold" font-size="7.1" >10</text>
<line x1="236.89999999999998" y1="293.35" x2="239.2" y2="293.35" stroke="#7c7c7c"/>
<text x="235.00" y="296.75" text-anchor="end" font-weight="bold" font-size="7.1" >15</text>
<line x1="236.89999999999998" y1="267.8" x2="239.2" y2="267.8" stroke="#7c7c7c"/>
<text x="235.00" y="271.20" text-anchor="end" font-weight="bold" font-size="7.1" >20</text>
<line x1="263.8" y1="370" x2="263.8" y2="372.3" stroke="#7c7c7c"/>
<text x="263.80" y="379.95" text-anchor="middle" font-weight="bold" font-size="7.1" >1</text>
<line x1="299.2" y1="370" x2="299.2" y2="372.3" stroke="#7c7c7c"/>
<text x="299.20" y="379.95" text-anchor="middle" font-weight="bold" font-size="7.1" >10</text>
<polyline points="248.5,358.3 266.1,356.7 281.6,348.9 299.5,331.7 316.3,307.4" fill="none" stroke="#333" stroke-width="0.8"/>
<polyline points="248.5,362.6 266.1,363.5 281.6,355.4 299.5,358.3 316.3,348.9" fill="none" stroke="#333" stroke-width="0.8"/>
<line x1="248.5" y1="355.4" x2="248.5" y2="358.3" stroke="#333" stroke-width="0.7"/>
<line x1="247.2" y1="355.4" x2="249.8" y2="355.4" stroke="#333" stroke-width="0.7"/>
<line x1="248.5" y1="368.5" x2="248.5" y2="358.3" stroke="#333" stroke-width="0.7"/>
<line x1="247.2" y1="368.5" x2="249.8" y2="368.5" stroke="#333" stroke-width="0.7"/>
<line x1="281.6" y1="339.2" x2="281.6" y2="348.9" stroke="#333" stroke-width="0.7"/>
<line x1="280.3" y1="339.2" x2="282.9" y2="339.2" stroke="#333" stroke-width="0.7"/>
<line x1="316.3" y1="290.5" x2="316.3" y2="307.4" stroke="#333" stroke-width="0.7"/>
<line x1="315.0" y1="290.5" x2="317.6" y2="290.5" stroke="#333" stroke-width="0.7"/>
<line x1="316.3" y1="323.0" x2="316.3" y2="307.4" stroke="#333" stroke-width="0.7"/>
<line x1="315.0" y1="323.0" x2="317.6" y2="323.0" stroke="#333" stroke-width="0.7"/>
<line x1="266.1" y1="367.5" x2="266.1" y2="363.5" stroke="#333" stroke-width="0.7"/>
<line x1="264.8" y1="367.5" x2="267.4" y2="367.5" stroke="#333" stroke-width="0.7"/>
<line x1="281.6" y1="351.2" x2="281.6" y2="355.4" stroke="#333" stroke-width="0.7"/>
<line x1="280.3" y1="351.2" x2="282.9" y2="351.2" stroke="#333" stroke-width="0.7"/>
<line x1="281.6" y1="360.0" x2="281.6" y2="355.4" stroke="#333" stroke-width="0.7"/>
<line x1="280.3" y1="360.0" x2="282.9" y2="360.0" stroke="#333" stroke-width="0.7"/>
<line x1="299.5" y1="350.2" x2="299.5" y2="358.3" stroke="#333" stroke-width="0.7"/>
<line x1="298.2" y1="350.2" x2="300.8" y2="350.2" stroke="#333" stroke-width="0.7"/>
<line x1="299.5" y1="365.1" x2="299.5" y2="358.3" stroke="#333" stroke-width="0.7"/>
<line x1="298.2" y1="365.1" x2="300.8" y2="365.1" stroke="#333" stroke-width="0.7"/>
<line x1="316.3" y1="339.8" x2="316.3" y2="348.9" stroke="#333" stroke-width="0.7"/>
<line x1="315.0" y1="339.8" x2="317.6" y2="339.8" stroke="#333" stroke-width="0.7"/>
<line x1="316.3" y1="356.0" x2="316.3" y2="348.9" stroke="#333" stroke-width="0.7"/>
<line x1="315.0" y1="356.0" x2="317.6" y2="356.0" stroke="#333" stroke-width="0.7"/>
<rect x="246.05" y="355.85" width="4.90" height="4.90" fill="#fff" stroke="#222" stroke-width="0.8"/>
<rect x="263.65" y="354.25" width="4.90" height="4.90" fill="#fff" stroke="#222" stroke-width="0.8"/>
<rect x="279.15" y="346.45" width="4.90" height="4.90" fill="#fff" stroke="#222" stroke-width="0.8"/>
<rect x="297.05" y="329.25" width="4.90" height="4.90" fill="#fff" stroke="#222" stroke-width="0.8"/>
<rect x="313.85" y="304.95" width="4.90" height="4.90" fill="#fff" stroke="#222" stroke-width="0.8"/>
<rect x="246.10" y="360.20" width="4.80" height="4.80" fill="#111"/>
<rect x="263.70" y="361.10" width="4.80" height="4.80" fill="#111"/>
<rect x="279.20" y="353.00" width="4.80" height="4.80" fill="#111"/>
<rect x="297.10" y="355.90" width="4.80" height="4.80" fill="#111"/>
<rect x="313.90" y="346.50" width="4.80" height="4.80" fill="#111"/>
<rect x="344.4" y="267.8" width="90.60000000000002" height="102.0" fill="none" stroke="#7c7c7c" stroke-width="1"/>
<line x1="342.09999999999997" y1="369.8" x2="344.4" y2="369.8" stroke="#7c7c7c"/>
<text x="339.60" y="373.20" text-anchor="end" font-weight="bold" font-size="7.1" >0</text>
<line x1="342.09999999999997" y1="349.40000000000003" x2="344.4" y2="349.40000000000003" stroke="#7c7c7c"/>
<text x="339.60" y="352.80" text-anchor="end" font-weight="bold" font-size="7.1" >10</text>
<line x1="342.09999999999997" y1="329.0" x2="344.4" y2="329.0" stroke="#7c7c7c"/>
<text x="339.60" y="332.40" text-anchor="end" font-weight="bold" font-size="7.1" >20</text>
<line x1="342.09999999999997" y1="308.6" x2="344.4" y2="308.6" stroke="#7c7c7c"/>
<text x="339.60" y="312.00" text-anchor="end" font-weight="bold" font-size="7.1" >30</text>
<line x1="342.09999999999997" y1="288.20000000000005" x2="344.4" y2="288.20000000000005" stroke="#7c7c7c"/>
<text x="339.60" y="291.60" text-anchor="end" font-weight="bold" font-size="7.1" >40</text>
<line x1="342.09999999999997" y1="267.8" x2="344.4" y2="267.8" stroke="#7c7c7c"/>
<text x="339.60" y="271.20" text-anchor="end" font-weight="bold" font-size="7.1" >50</text>
<line x1="367.8" y1="369.8" x2="367.8" y2="372.1" stroke="#7c7c7c"/>
<text x="367.80" y="380.35" text-anchor="middle" font-weight="bold" font-size="7.1" >1</text>
<line x1="398.8" y1="369.8" x2="398.8" y2="372.1" stroke="#7c7c7c"/>
<text x="398.80" y="380.35" text-anchor="middle" font-weight="bold" font-size="7.1" >10</text>
<polyline points="369.4,367.6 381.8,359.8 398.7,361.3 412.7,360.8" fill="none" stroke="#888" stroke-width="0.8"/>
<polyline points="353.8,363.8 369.4,363.0 381.8,359.6 398.7,353.7 412.7,335.9" fill="none" stroke="#333" stroke-width="0.8"/>
<polyline points="354.2,351.7 369.4,347.3 382.4,329.5 399.0,317.8 412.6,289.6" fill="none" stroke="#333" stroke-width="0.8"/>
<line x1="412.7" y1="351.7" x2="412.7" y2="360.8" stroke="#333" stroke-width="0.7"/>
<line x1="411.4" y1="351.7" x2="414.0" y2="351.7" stroke="#333" stroke-width="0.7"/>
<line x1="412.7" y1="369.8" x2="412.7" y2="360.8" stroke="#333" stroke-width="0.7"/>
<line x1="411.4" y1="369.8" x2="414.0" y2="369.8" stroke="#333" stroke-width="0.7"/>
<line x1="353.8" y1="359.6" x2="353.8" y2="363.8" stroke="#333" stroke-width="0.7"/>
<line x1="352.5" y1="359.6" x2="355.1" y2="359.6" stroke="#333" stroke-width="0.7"/>
<line x1="353.8" y1="368.0" x2="353.8" y2="363.8" stroke="#333" stroke-width="0.7"/>
<line x1="352.5" y1="368.0" x2="355.1" y2="368.0" stroke="#333" stroke-width="0.7"/>
<line x1="412.7" y1="328.5" x2="412.7" y2="335.9" stroke="#333" stroke-width="0.7"/>
<line x1="411.4" y1="328.5" x2="414.0" y2="328.5" stroke="#333" stroke-width="0.7"/>
<line x1="412.7" y1="341.5" x2="412.7" y2="335.9" stroke="#333" stroke-width="0.7"/>
<line x1="411.4" y1="341.5" x2="414.0" y2="341.5" stroke="#333" stroke-width="0.7"/>
<line x1="369.4" y1="341.5" x2="369.4" y2="347.3" stroke="#333" stroke-width="0.7"/>
<line x1="368.1" y1="341.5" x2="370.7" y2="341.5" stroke="#333" stroke-width="0.7"/>
<line x1="369.4" y1="351.7" x2="369.4" y2="347.3" stroke="#333" stroke-width="0.7"/>
<line x1="368.1" y1="351.7" x2="370.7" y2="351.7" stroke="#333" stroke-width="0.7"/>
<line x1="412.6" y1="280.5" x2="412.6" y2="289.6" stroke="#333" stroke-width="0.7"/>
<line x1="411.3" y1="280.5" x2="413.9" y2="280.5" stroke="#333" stroke-width="0.7"/>
<line x1="412.6" y1="298.3" x2="412.6" y2="289.6" stroke="#333" stroke-width="0.7"/>
<line x1="411.3" y1="298.3" x2="413.9" y2="298.3" stroke="#333" stroke-width="0.7"/>
<rect x="367.2" y="365.4" width="4.4" height="4.4" fill="#c4c4c4" stroke="#666" stroke-width="0.8"/>
<rect x="379.6" y="357.6" width="4.4" height="4.4" fill="#c4c4c4" stroke="#666" stroke-width="0.8"/>
<rect x="396.5" y="359.1" width="4.4" height="4.4" fill="#c4c4c4" stroke="#666" stroke-width="0.8"/>
<rect x="410.5" y="358.6" width="4.4" height="4.4" fill="#c4c4c4" stroke="#666" stroke-width="0.8"/>
<rect x="396.30" y="358.90" width="4.80" height="4.80" fill="#111"/>
<rect x="351.40" y="361.40" width="4.80" height="4.80" fill="#111"/>
<rect x="367.00" y="360.60" width="4.80" height="4.80" fill="#111"/>
<rect x="379.40" y="357.20" width="4.80" height="4.80" fill="#111"/>
<rect x="396.30" y="351.30" width="4.80" height="4.80" fill="#111"/>
<rect x="410.30" y="333.50" width="4.80" height="4.80" fill="#111"/>
<circle cx="354.2" cy="351.7" r="2.2" fill="#fff" stroke="#111" stroke-width="0.8"/>
<circle cx="369.4" cy="347.3" r="2.2" fill="#fff" stroke="#111" stroke-width="0.8"/>
<circle cx="382.4" cy="329.5" r="2.2" fill="#fff" stroke="#111" stroke-width="0.8"/>
<circle cx="399.0" cy="317.8" r="2.2" fill="#fff" stroke="#111" stroke-width="0.8"/>
<circle cx="412.6" cy="289.6" r="2.2" fill="#fff" stroke="#111" stroke-width="0.8"/>
<text x="0.00" y="0.00" text-anchor="middle" font-weight="bold" font-size="7.1" transform="translate(14.6,341.5) rotate(-90)">Specific Lysis (%)</text>
<text x="31.80" y="393.60" text-anchor="start" font-weight="bold" font-size="7.1" >E:T ratio</text>
<rect x="442.65" y="270.25" width="4.90" height="4.90" fill="#fff" stroke="#222" stroke-width="0.8"/>
<text x="451.60" y="274.00" text-anchor="start" font-weight="bold" font-size="7.1" >Ly49D</text>
<text x="472.40" y="271.60" text-anchor="start" font-weight="bold" font-size="5.5" >-</text>
<text x="451.60" y="281.00" text-anchor="start" font-weight="bold" font-size="7.25" >exposed to CHO</text>
<rect x="442.80" y="290.00" width="4.80" height="4.80" fill="#111"/>
<text x="450.90" y="294.50" text-anchor="start" font-weight="bold" font-size="7.1" >Ly49D</text>
<text x="471.70" y="292.00" text-anchor="start" font-weight="bold" font-size="5.5" >+</text>
<text x="450.90" y="301.50" text-anchor="start" font-weight="bold" font-size="7.25" >exposed to CHO</text>
<rect x="442.7" y="313.6" width="4.8" height="4.8" fill="#c4c4c4" stroke="#666" stroke-width="0.8"/>
<text x="452.70" y="316.50" text-anchor="start" font-weight="bold" font-size="7.1" >Ly49D</text>
<text x="473.50" y="314.00" text-anchor="start" font-weight="bold" font-size="5.5" >+</text>
<text x="453.00" y="326.20" text-anchor="start" font-weight="bold" font-size="7.25" >exposed to CHO</text>
<text x="453.00" y="333.40" text-anchor="start" font-weight="bold" font-size="7.25" >αLy49D blocking</text>
<text x="453.00" y="340.80" text-anchor="start" font-weight="bold" font-size="7.25" >during lysis assay</text>
<circle cx="445.6" cy="356.9" r="2.3" fill="#fff" stroke="#111" stroke-width="0.8"/>
<text x="451.30" y="358.70" text-anchor="start" font-weight="bold" font-size="7.1" >Ly49D+</text>
<text x="451.30" y="367.20" text-anchor="start" font-weight="bold" font-size="7.25" >exposed to RMA</text>
</svg></body></html>
